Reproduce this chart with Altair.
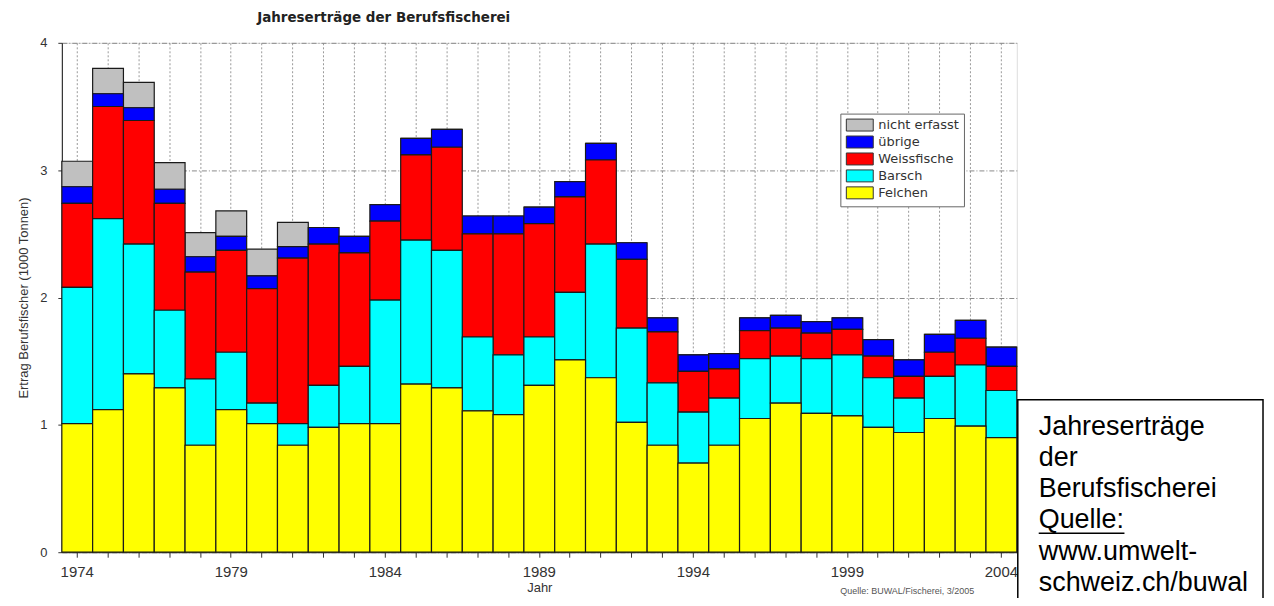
import altair as alt
import pandas as pd

jahre = list(range(1974, 2005))

felchen = [1.01, 1.12, 1.40, 1.29, 0.84, 1.12, 1.01, 0.84, 0.98, 1.01,
           1.01, 1.32, 1.29, 1.11, 1.08, 1.31, 1.51, 1.37, 1.02, 0.84,
           0.70, 0.84, 1.05, 1.17, 1.09, 1.07, 0.98, 0.94, 1.05, 0.99, 0.90]
barsch = [1.07, 1.50, 1.02, 0.61, 0.52, 0.45, 0.16, 0.17, 0.33, 0.45,
          0.97, 1.13, 1.08, 0.58, 0.47, 0.38, 0.53, 1.05, 0.74, 0.49,
          0.40, 0.37, 0.47, 0.37, 0.43, 0.48, 0.39, 0.27, 0.33, 0.48, 0.37]
weissfische = [0.66, 0.88, 0.97, 0.84, 0.84, 0.80, 0.90, 1.30, 1.11, 0.89,
               0.62, 0.67, 0.81, 0.81, 0.95, 0.89, 0.75, 0.66, 0.54, 0.40,
               0.32, 0.23, 0.22, 0.22, 0.20, 0.20, 0.17, 0.17, 0.19, 0.21, 0.19]
uebrige = [0.13, 0.10, 0.10, 0.11, 0.12, 0.11, 0.10, 0.09, 0.13, 0.13,
           0.13, 0.13, 0.14, 0.14, 0.14, 0.13, 0.12, 0.13, 0.13, 0.11,
           0.13, 0.12, 0.10, 0.10, 0.09, 0.09, 0.13, 0.13, 0.14, 0.14, 0.15]
nicht_erfasst = [0.20, 0.20, 0.20, 0.21, 0.19, 0.20, 0.21, 0.19, 0.00, 0.00,
                 0.00, 0.00, 0.00, 0.00, 0.00, 0.00, 0.00, 0.00, 0.00, 0.00,
                 0.00, 0.00, 0.00, 0.00, 0.00, 0.00, 0.00, 0.00, 0.00, 0.00, 0.00]

kategorien = ["nicht erfasst", "übrige", "Weissfische", "Barsch", "Felchen"]
farben = ["#c0c0c0", "#0000ff", "#ff0000", "#00ffff", "#ffff00"]
serien = [nicht_erfasst, uebrige, weissfische, barsch, felchen]

box_zeilen = ["Jahreserträge", "der", "Berufsfischerei", "Quelle:",
              "www.umwelt-", "schweiz.ch/buwal"]
titel = "Jahreserträge der Berufsfischerei"
quelle_klein = "Quelle: BUWAL/Fischerei, 3/2005"

rows = []
for i, (kat, werte) in enumerate(zip(kategorien, serien)):
    for j, w in zip(jahre, werte):
        rows.append({"Jahr": j, "Kategorie": kat, "Wert": w, "ord": 4 - i})
df = pd.DataFrame(rows)

FONT = "Liberation Sans"
WIDE = "DejaVu Sans"

bars = alt.Chart(df).mark_bar(stroke="#1a1a1a", strokeWidth=1.2).encode(
    x=alt.X("Jahr:O",
            scale=alt.Scale(paddingInner=0, paddingOuter=0),
            axis=alt.Axis(title="Jahr", labelAngle=0,
                          labelExpr="datum.value % 5 == 4 ? datum.label : ''",
                          bandPosition=0.5, grid=True, gridColor="#9a9a9a",
                          gridDash=[2, 2], gridWidth=1,
                          tickSize=5, tickColor="#333", domainColor="#222",
                          labelPadding=7, labelFontSize=15, labelColor="#333",
                          labelFont=FONT, titleFont=FONT, titleFontSize=13,
                          titleFontWeight="normal", titleColor="#333",
                          titlePadding=2)),
    y=alt.Y("Wert:Q", stack="zero",
            scale=alt.Scale(domain=[0, 4], nice=False),
            axis=alt.Axis(title="Ertrag Berufsfischer (1000 Tonnen)",
                          values=[0, 1, 2, 3, 4], format="d",
                          grid=True, gridColor="#8a8a8a", gridDash=[5, 2, 1, 2],
                          tickSize=4, tickColor="#333", domainColor="#111",
                          labelPadding=11, labelFontSize=13, labelColor="#333",
                          labelFont=FONT, titleFont=FONT, titleFontSize=13,
                          titleFontWeight="normal", titleColor="#333",
                          titlePadding=9)),
    color=alt.Color("Kategorie:N",
                    scale=alt.Scale(domain=kategorien, range=farben),
                    legend=alt.Legend(title=None, orient="none",
                                      legendX=781, legendY=71,
                                      strokeColor="#666", fillColor="white",
                                      padding=5, rowPadding=0,
                                      symbolType="M-2.25,-1L2.25,-1L2.25,1L-2.25,1Z",
                                      symbolSize=144, symbolOffset=8,
                                      symbolStrokeColor="#333",
                                      symbolStrokeWidth=1, symbolOpacity=1,
                                      labelOffset=12, labelFontSize=13,
                                      labelFont=WIDE, labelColor="#333")),
    order=alt.Order("ord:Q", sort="ascending"),
)

one = pd.DataFrame({"a": [0]})

box = alt.Chart(one).mark_rect(fill="white", stroke="black", strokeWidth=1.5).encode(
    x=alt.value(959), x2=alt.value(1205), y=alt.value(358), y2=alt.value(570))

box_text = alt.Chart(one).mark_text(
    text=box_zeilen, align="left", baseline="alphabetic", font=FONT,
    fontSize=27, lineHeight=31.4, color="black").encode(
    x=alt.value(980), y=alt.value(393))

underline = alt.Chart(one).mark_rule(color="black", strokeWidth=1.5).encode(
    x=alt.value(980), x2=alt.value(1066), y=alt.value(492))

small = alt.Chart(one).mark_text(
    text=quelle_klein, align="left", baseline="alphabetic", font=FONT,
    fontSize=9, color="#555").encode(x=alt.value(781), y=alt.value(553))

chart = alt.layer(bars, box, box_text, underline, small).properties(
    width=958, height=511,
    title=alt.TitleParams(text=titel, anchor="start", frame="group", dx=196,
                          offset=12, fontSize=13.5, fontWeight="bold",
                          font=WIDE, color="#222"),
    autosize=alt.AutoSizeParams(type="none"),
    padding={"left": 54, "top": 34, "right": 250, "bottom": 45},
).configure_view(stroke="#444", strokeWidth=1).configure(background="white")

chart.save("out.html", embed_options={"renderer": "svg", "actions": False})
